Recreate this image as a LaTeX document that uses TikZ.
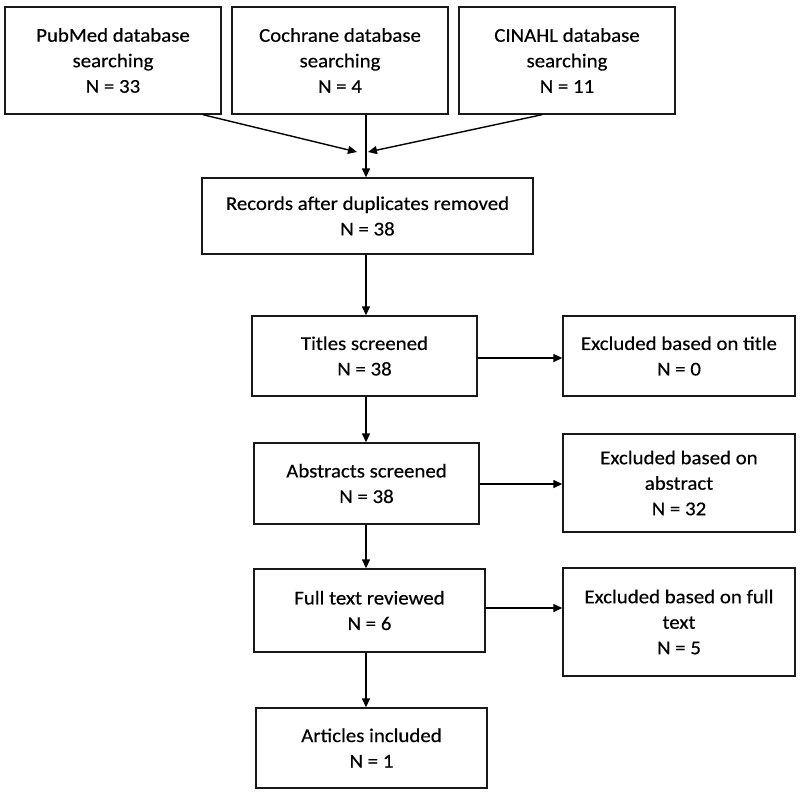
\documentclass[tikz,border=0pt]{standalone}
\usepackage{fontspec}
\setmainfont{Carlito}[FakeStretch=1.07,FakeBold=0.4]
\usetikzlibrary{arrows.meta}
\begin{document}
\begin{tikzpicture}[x=1pt,y=-1pt,
  box/.style={draw=black!90, line width=1.4pt, align=center, inner sep=0pt,
    font=\fontsize{19.5}{25.5}\selectfont},
  arr/.style={draw=black, line width=1.4pt, -{Triangle[length=9pt,width=8pt]}}]
\useasboundingbox (0,0) rectangle (800,796);
\node[box, minimum width=216pt, minimum height=107pt] (pub) at (113,60.5) {PubMed database\\searching\\N = 33};
\node[box, minimum width=216pt, minimum height=107pt] (coch) at (340,60.5) {Cochrane database\\searching\\N = 4};
\node[box, minimum width=216pt, minimum height=107pt] (cin) at (567,60.5) {CINAHL database\\searching\\N = 11};
\node[box, minimum width=331pt, minimum height=76pt] (rec) at (367.5,216) {Records after duplicates removed\\N = 38};
\node[box, minimum width=225pt, minimum height=80pt] (tit) at (364.5,356) {Titles screened\\N = 38};
\node[box, minimum width=232pt, minimum height=80pt] (exT) at (679,356) {Excluded based on title\\N = 0};
\node[box, minimum width=225pt, minimum height=81pt] (abs) at (366.5,483.5) {Abstracts screened\\N = 38};
\node[box, minimum width=232pt, minimum height=98pt] (exA) at (679,483) {Excluded based on\\abstract\\N = 32};
\node[box, minimum width=231pt, minimum height=83pt] (full) at (369.5,610.5) {Full text reviewed\\N = 6};
\node[box, minimum width=232pt, minimum height=108pt] (exF) at (679,622) {Excluded based on full\\text\\N = 5};
\node[box, minimum width=231pt, minimum height=80pt] (art) at (371.5,748) {Articles included\\N = 1};
\coordinate (m) at (366,152);
\draw[arr] ([xshift=90pt]pub.south) -- ([xshift=-9pt]m);
\draw[arr] ([xshift=-25pt]cin.south) -- ([xshift=2pt]m);
\draw[arr] (coch.south -| m) -- (rec.north -| m);
\draw[arr] (rec.south -| m) -- (tit.north -| m);
\draw[arr] (tit.south -| m) -- (abs.north -| m);
\draw[arr] (abs.south -| m) -- (full.north -| m);
\draw[arr] (full.south -| m) -- (art.north -| m);
\draw[arr] ([yshift=-2pt]tit.east) -- ([yshift=-2pt]tit.east -| exT.west);
\draw[arr] ([yshift=-0.5pt]abs.east) -- ([yshift=-0.5pt]abs.east -| exA.west);
\draw[arr] ([yshift=2.5pt]full.east) -- ([yshift=2.5pt]full.east -| exF.west);
\end{tikzpicture}
\end{document}
